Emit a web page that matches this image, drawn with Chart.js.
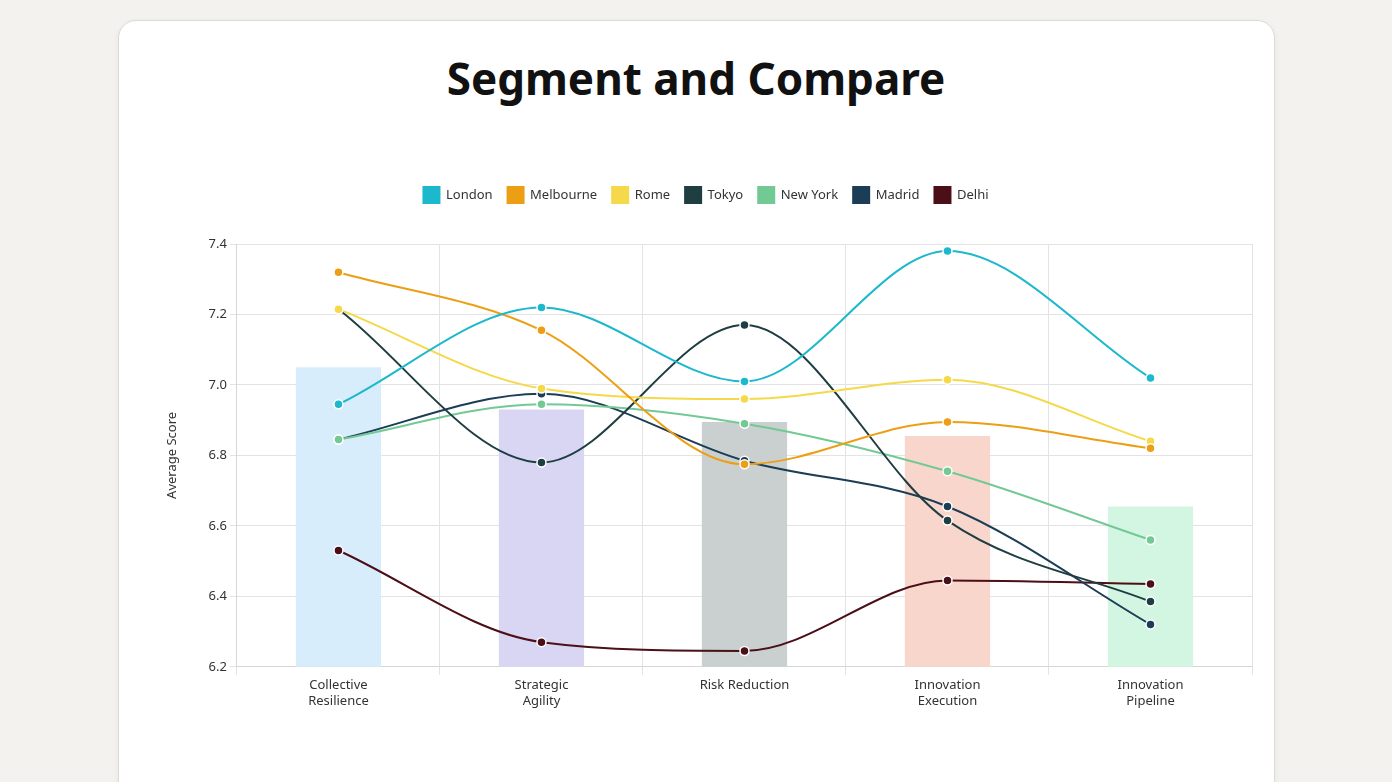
<!DOCTYPE html>
<html>
<head>
<meta charset="utf-8">
<script src="https://cdn.jsdelivr.net/npm/chart.js@4.4.1/dist/chart.umd.min.js"></script>
<style>
    html, body { margin: 0; padding: 0; }
    body {
        width: 1392px;
        height: 782px;
        background: #f4f2ee;
        overflow: hidden;
        font-family: 'Noto Sans', sans-serif;
        position: relative;
    }
    .card {
        position: absolute;
        left: 118px;
        top: 20px;
        width: 1155px;
        height: 800px;
        background: #ffffff;
        border: 1px solid #dcdad6;
        border-radius: 18px;
        box-shadow: 0 2px 6px rgba(0, 0, 0, 0.06);
    }
    h1 {
        position: absolute;
        left: 0;
        right: 0;
        top: 48px;
        margin: 0;
        text-align: center;
        font-size: 44px;
        font-weight: 700;
        color: #111;
    }
    .chart-wrap {
        position: absolute;
        left: 160px;
        top: 172px;
        width: 1100px;
        height: 540px;
    }
</style>
</head>
<body>
<div class="card"></div>
<h1>Segment and Compare</h1>
<div class="chart-wrap"><canvas id="lineChart"></canvas></div>
<script>
const categories = [
    ['Collective', 'Resilience'],
    ['Strategic', 'Agility'],
    'Risk Reduction',
    ['Innovation', 'Execution'],
    ['Innovation', 'Pipeline'],
];

// overall average per category (background bars)
const averages = [7.05, 6.93, 6.895, 6.855, 6.655];
const barColors = ['#d8edfb', '#d9d6f4', '#c9d0cf', '#f9d6cc', '#d3f6e2'];

const london = [6.945, 7.22, 7.01, 7.38, 7.02];
const melbourne = [7.32, 7.155, 6.775, 6.895, 6.82];
const rome = [7.215, 6.99, 6.96, 7.015, 6.84];
const tokyo = [7.215, 6.78, 7.17, 6.615, 6.385];
const newYork = [6.845, 6.945, 6.89, 6.755, 6.56];
const madrid = [6.845, 6.975, 6.785, 6.655, 6.32];
const delhi = [6.53, 6.27, 6.245, 6.445, 6.435];

const yTicks = { min: 6.2, max: 7.4, step: 0.2 };

const lineSeries = [
    { label: 'London', data: london, color: '#1cb8cc' },
    { label: 'Melbourne', data: melbourne, color: '#ec9f14' },
    { label: 'Rome', data: rome, color: '#f5d94a' },
    { label: 'Tokyo', data: tokyo, color: '#1f3e42' },
    { label: 'New York', data: newYork, color: '#72c994' },
    { label: 'Madrid', data: madrid, color: '#1b3d55' },
    { label: 'Delhi', data: delhi, color: '#4b0f18' },
];

// push the plot area down a bit below the legend
const legendMargin = {
    id: 'legendMargin',
    beforeInit(chart) {
        const origFit = chart.legend.fit;
        chart.legend.fit = function () {
            origFit.bind(chart.legend)();
            this.height += 31;
        };
    },
};

document.addEventListener('DOMContentLoaded', () => {
    const ctx = document.getElementById('lineChart').getContext('2d');

    Chart.defaults.font.family = "'Noto Sans', sans-serif";
    Chart.defaults.color = '#333';

    const datasets = lineSeries.map((s) => ({
        type: 'line',
        label: s.label,
        data: s.data,
        borderColor: s.color,
        backgroundColor: s.color,
        borderWidth: 2,
        cubicInterpolationMode: 'monotone',
        pointRadius: 4.5,
        pointBorderColor: '#ffffff',
        pointBorderWidth: 1.5,
        pointBackgroundColor: s.color,
        fill: false,
        order: 1,
    }));

    datasets.push({
        type: 'bar',
        label: 'Average',
        data: averages,
        backgroundColor: barColors,
        borderWidth: 0,
        barPercentage: 0.42,
        categoryPercentage: 1,
        order: 2,
    });

    new Chart(ctx, {
        data: { labels: categories, datasets: datasets },
        options: {
            responsive: true,
            maintainAspectRatio: false,
            animation: false,
            plugins: {
                legend: {
                    position: 'top',
                    labels: {
                        filter: (item) => item.text !== 'Average',
                        boxWidth: 16,
                        boxHeight: 16,
                        padding: 15,
                        font: { size: 13 },
                        color: '#333',
                    },
                },
                tooltip: { enabled: false },
            },
            layout: { padding: { top: 0, right: 8 } },
            scales: {
                x: {
                    offset: true,
                    grid: { offset: true, color: '#e3e3e3', tickLength: 8 },
                    border: { color: '#d6d6d6' },
                    ticks: { font: { size: 13 }, color: '#333', padding: 3 },
                },
                y: {
                    min: yTicks.min,
                    max: yTicks.max,
                    grid: { color: '#e3e3e3', tickLength: 7 },
                    border: { color: '#d6d6d6' },
                    ticks: {
                        stepSize: yTicks.step,
                        font: { size: 13 },
                        color: '#333',
                        padding: 3,
                        callback: (v) => v.toFixed(1),
                    },
                    title: {
                        display: true,
                        text: 'Average Score',
                        font: { size: 13 },
                        color: '#333',
                        padding: { top: 4, bottom: 26 },
                    },
                },
            },
        },
        plugins: [legendMargin],
    });
});
</script>
</body>
</html>
